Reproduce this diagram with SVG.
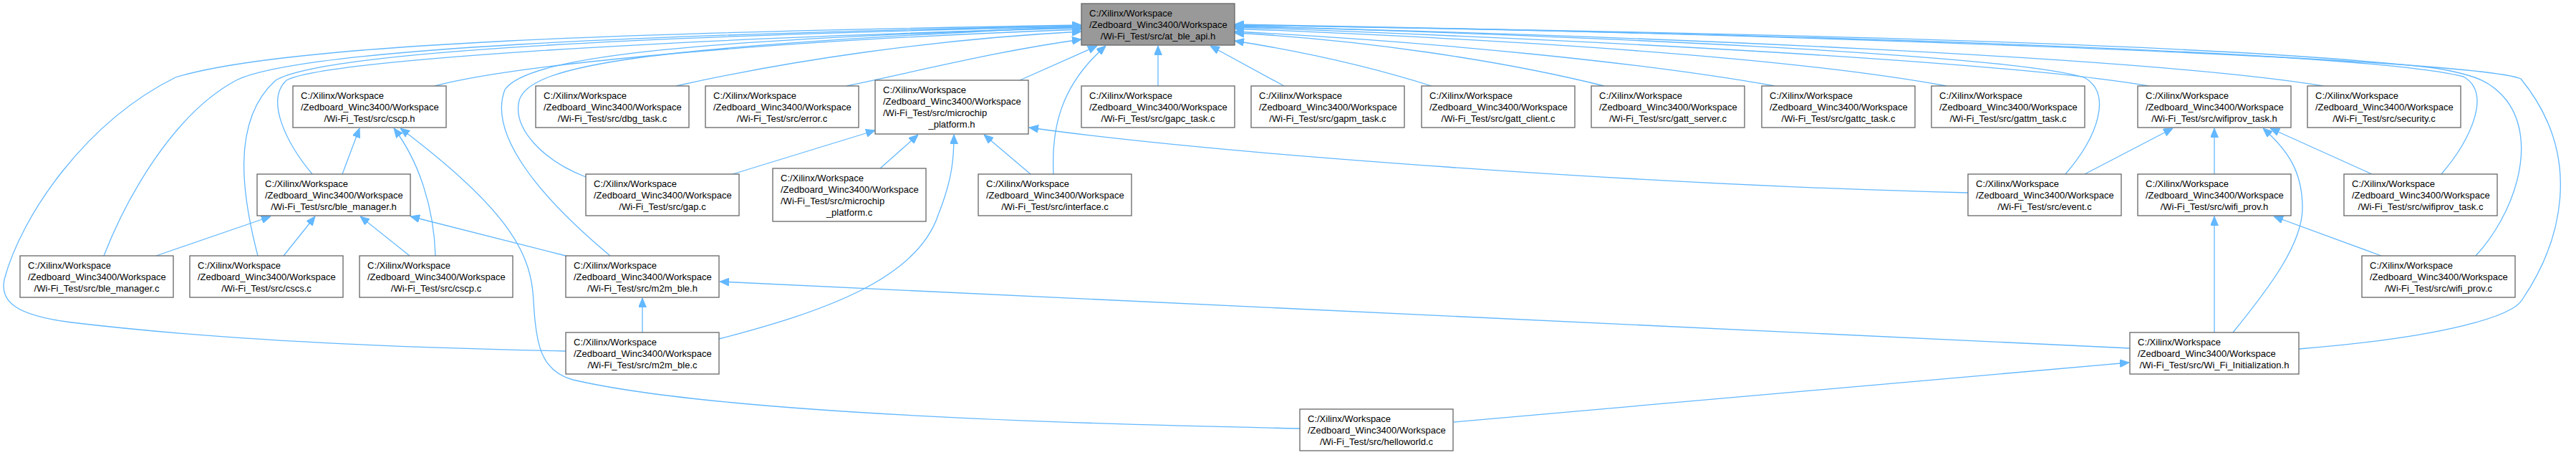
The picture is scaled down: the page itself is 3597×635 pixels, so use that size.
<svg xmlns="http://www.w3.org/2000/svg" width="3597" height="635" viewBox="0 0 3597 635">
<style>
.bg{fill:#ffffff}
.box{fill:#ffffff;stroke:#666666;stroke-width:1.3}
.rootbox{fill:#999999;stroke:#666666;stroke-width:1.3}
text{font-family:"Liberation Sans",Arial,sans-serif;font-size:13px;fill:#000000}
.c{text-anchor:middle}
.e{fill:none;stroke:#63b8ff;stroke-width:1.3;marker-end:url(#arr)}
</style>
<defs>
<marker id="arr" viewBox="0 0 13 11" refX="13" refY="5.5" markerWidth="13" markerHeight="11" markerUnits="userSpaceOnUse" orient="auto">
<path d="M0,0 L13,5.5 L0,11 z" fill="#63b8ff" stroke="#63b8ff" stroke-width="1"/>
</marker>
</defs>
<rect class="bg" x="0" y="0" width="3597" height="635"/>
<g id="edges">
<path class="e" d="M790,490 C650,487 350,480 100,450 C20,440 0,420 6,390 C30,300 120,170 245,108 C400,60 900,45 1510,35"/>
<path class="e" d="M145,357 C175,280 240,160 330,112 C420,68 900,48 1510,36"/>
<path class="e" d="M360,357 C340,280 320,170 385,112 C450,72 900,50 1510,37"/>
<path class="e" d="M436,243 C400,200 370,140 400,112 C450,85 900,55 1510,39"/>
<path class="e" d="M607,120 C700,95 1000,60 1510,41"/>
<path class="e" d="M852,357 C760,280 680,190 705,125 C740,75 1000,55 1510,38"/>
<path class="e" d="M818,247 C760,225 715,180 725,140 C740,90 900,65 1510,37"/>
<path class="e" d="M944,120 C1100,85 1300,55 1510,44"/>
<path class="e" d="M1182,120 C1300,95 1400,70 1510,55"/>
<path class="e" d="M1424,112 L1532,64"/>
<path class="e" d="M1471,243 C1468,180 1480,120 1544,64"/>
<path class="e" d="M1617,120 L1617,64"/>
<path class="e" d="M1793,120 L1690,64"/>
<path class="e" d="M1999,120 C1920,95 1820,72 1724,57"/>
<path class="e" d="M2240,120 C2100,85 1900,55 1724,46"/>
<path class="e" d="M2478,120 C2300,88 2000,58 1724,44"/>
<path class="e" d="M2718,120 C2500,80 2100,55 1724,40"/>
<path class="e" d="M3000,120 C2800,85 2200,55 1724,38"/>
<path class="e" d="M3244,120 C3000,80 2300,50 1724,37"/>
<path class="e" d="M2884,243 C2930,190 2950,130 2910,108 C2800,75 2200,50 1724,36"/>
<path class="e" d="M3409,243 C3450,195 3480,130 3440,107 C3300,70 2400,45 1724,35"/>
<path class="e" d="M3457,357 C3510,300 3545,200 3500,140 C3480,115 3460,105 3400,95 C3100,60 2400,45 1724,35"/>
<path class="e" d="M3210,487 C3420,470 3510,440 3522,418 C3575,340 3610,220 3520,110 C3450,80 2400,45 1724,34"/>
<path class="e" d="M478,243 L502,179"/>
<path class="e" d="M608,357 C606,290 585,225 550,179"/>
<path class="e" d="M1815,598 C1300,588 950,565 800,530 C755,518 748,480 745,420 C742,360 720,300 559,179"/>
<path class="e" d="M218,357 L378,302"/>
<path class="e" d="M396,357 L440,302"/>
<path class="e" d="M572,357 L503,302"/>
<path class="e" d="M790,357 L573,302"/>
<path class="e" d="M1023,243 L1222,182"/>
<path class="e" d="M1229,235 L1282,188"/>
<path class="e" d="M1439,243 L1374,188"/>
<path class="e" d="M1004,473 C1150,435 1280,390 1310,300 C1330,250 1332,220 1332,188"/>
<path class="e" d="M2748,269 C2300,258 1700,215 1437,178"/>
<path class="e" d="M897,464 L897,416"/>
<path class="e" d="M2974,486 L1005,393"/>
<path class="e" d="M2911,243 L3034,179"/>
<path class="e" d="M3092,243 L3092,179"/>
<path class="e" d="M3118,464 C3170,400 3215,340 3215,290 C3215,240 3195,210 3160,179"/>
<path class="e" d="M3312,243 L3170,179"/>
<path class="e" d="M3325,357 L3175,302"/>
<path class="e" d="M3092,464 L3092,302"/>
<path class="e" d="M2030,589 L2973,506"/>
</g>
<g id="node-at_ble_api_h">
<rect class="rootbox" x="1510" y="5" width="214" height="58"/>
<text x="1521" y="23">C:/Xilinx/Workspace</text>
<text x="1521" y="39">/Zedboard_Winc3400/Workspace</text>
<text class="c" x="1617" y="55">/Wi-Fi_Test/src/at_ble_api.h</text>
</g>
<g id="node-cscp_h">
<rect class="box" x="409" y="120" width="214" height="58"/>
<text x="420" y="138">C:/Xilinx/Workspace</text>
<text x="420" y="154">/Zedboard_Winc3400/Workspace</text>
<text class="c" x="516" y="170">/Wi-Fi_Test/src/cscp.h</text>
</g>
<g id="node-dbg_task_c">
<rect class="box" x="748" y="120" width="214" height="58"/>
<text x="759" y="138">C:/Xilinx/Workspace</text>
<text x="759" y="154">/Zedboard_Winc3400/Workspace</text>
<text class="c" x="855" y="170">/Wi-Fi_Test/src/dbg_task.c</text>
</g>
<g id="node-error_c">
<rect class="box" x="985" y="120" width="214" height="58"/>
<text x="996" y="138">C:/Xilinx/Workspace</text>
<text x="996" y="154">/Zedboard_Winc3400/Workspace</text>
<text class="c" x="1092" y="170">/Wi-Fi_Test/src/error.c</text>
</g>
<g id="node-microchip_platform_h">
<rect class="box" x="1222" y="112" width="214" height="75"/>
<text x="1233" y="130">C:/Xilinx/Workspace</text>
<text x="1233" y="146">/Zedboard_Winc3400/Workspace</text>
<text x="1233" y="162">/Wi-Fi_Test/src/microchip</text>
<text class="c" x="1329" y="178">_platform.h</text>
</g>
<g id="node-gapc_task_c">
<rect class="box" x="1510" y="120" width="214" height="58"/>
<text x="1521" y="138">C:/Xilinx/Workspace</text>
<text x="1521" y="154">/Zedboard_Winc3400/Workspace</text>
<text class="c" x="1617" y="170">/Wi-Fi_Test/src/gapc_task.c</text>
</g>
<g id="node-gapm_task_c">
<rect class="box" x="1747" y="120" width="214" height="58"/>
<text x="1758" y="138">C:/Xilinx/Workspace</text>
<text x="1758" y="154">/Zedboard_Winc3400/Workspace</text>
<text class="c" x="1854" y="170">/Wi-Fi_Test/src/gapm_task.c</text>
</g>
<g id="node-gatt_client_c">
<rect class="box" x="1985" y="120" width="214" height="58"/>
<text x="1996" y="138">C:/Xilinx/Workspace</text>
<text x="1996" y="154">/Zedboard_Winc3400/Workspace</text>
<text class="c" x="2092" y="170">/Wi-Fi_Test/src/gatt_client.c</text>
</g>
<g id="node-gatt_server_c">
<rect class="box" x="2222" y="120" width="214" height="58"/>
<text x="2233" y="138">C:/Xilinx/Workspace</text>
<text x="2233" y="154">/Zedboard_Winc3400/Workspace</text>
<text class="c" x="2329" y="170">/Wi-Fi_Test/src/gatt_server.c</text>
</g>
<g id="node-gattc_task_c">
<rect class="box" x="2460" y="120" width="214" height="58"/>
<text x="2471" y="138">C:/Xilinx/Workspace</text>
<text x="2471" y="154">/Zedboard_Winc3400/Workspace</text>
<text class="c" x="2567" y="170">/Wi-Fi_Test/src/gattc_task.c</text>
</g>
<g id="node-gattm_task_c">
<rect class="box" x="2697" y="120" width="214" height="58"/>
<text x="2708" y="138">C:/Xilinx/Workspace</text>
<text x="2708" y="154">/Zedboard_Winc3400/Workspace</text>
<text class="c" x="2804" y="170">/Wi-Fi_Test/src/gattm_task.c</text>
</g>
<g id="node-wifiprov_task_h">
<rect class="box" x="2985" y="120" width="214" height="58"/>
<text x="2996" y="138">C:/Xilinx/Workspace</text>
<text x="2996" y="154">/Zedboard_Winc3400/Workspace</text>
<text class="c" x="3092" y="170">/Wi-Fi_Test/src/wifiprov_task.h</text>
</g>
<g id="node-security_c">
<rect class="box" x="3222" y="120" width="214" height="58"/>
<text x="3233" y="138">C:/Xilinx/Workspace</text>
<text x="3233" y="154">/Zedboard_Winc3400/Workspace</text>
<text class="c" x="3329" y="170">/Wi-Fi_Test/src/security.c</text>
</g>
<g id="node-ble_manager_h">
<rect class="box" x="359" y="243" width="214" height="58"/>
<text x="370" y="261">C:/Xilinx/Workspace</text>
<text x="370" y="277">/Zedboard_Winc3400/Workspace</text>
<text class="c" x="466" y="293">/Wi-Fi_Test/src/ble_manager.h</text>
</g>
<g id="node-gap_c">
<rect class="box" x="818" y="243" width="214" height="58"/>
<text x="829" y="261">C:/Xilinx/Workspace</text>
<text x="829" y="277">/Zedboard_Winc3400/Workspace</text>
<text class="c" x="925" y="293">/Wi-Fi_Test/src/gap.c</text>
</g>
<g id="node-microchip_platform_c">
<rect class="box" x="1079" y="235" width="214" height="74"/>
<text x="1090" y="253">C:/Xilinx/Workspace</text>
<text x="1090" y="269">/Zedboard_Winc3400/Workspace</text>
<text x="1090" y="285">/Wi-Fi_Test/src/microchip</text>
<text class="c" x="1186" y="301">_platform.c</text>
</g>
<g id="node-interface_c">
<rect class="box" x="1366" y="243" width="214" height="58"/>
<text x="1377" y="261">C:/Xilinx/Workspace</text>
<text x="1377" y="277">/Zedboard_Winc3400/Workspace</text>
<text class="c" x="1473" y="293">/Wi-Fi_Test/src/interface.c</text>
</g>
<g id="node-event_c">
<rect class="box" x="2748" y="243" width="214" height="58"/>
<text x="2759" y="261">C:/Xilinx/Workspace</text>
<text x="2759" y="277">/Zedboard_Winc3400/Workspace</text>
<text class="c" x="2855" y="293">/Wi-Fi_Test/src/event.c</text>
</g>
<g id="node-wifi_prov_h">
<rect class="box" x="2985" y="243" width="214" height="58"/>
<text x="2996" y="261">C:/Xilinx/Workspace</text>
<text x="2996" y="277">/Zedboard_Winc3400/Workspace</text>
<text class="c" x="3092" y="293">/Wi-Fi_Test/src/wifi_prov.h</text>
</g>
<g id="node-wifiprov_task_c">
<rect class="box" x="3273" y="243" width="214" height="58"/>
<text x="3284" y="261">C:/Xilinx/Workspace</text>
<text x="3284" y="277">/Zedboard_Winc3400/Workspace</text>
<text class="c" x="3380" y="293">/Wi-Fi_Test/src/wifiprov_task.c</text>
</g>
<g id="node-ble_manager_c">
<rect class="box" x="28" y="357" width="214" height="58"/>
<text x="39" y="375">C:/Xilinx/Workspace</text>
<text x="39" y="391">/Zedboard_Winc3400/Workspace</text>
<text class="c" x="135" y="407">/Wi-Fi_Test/src/ble_manager.c</text>
</g>
<g id="node-cscs_c">
<rect class="box" x="265" y="357" width="214" height="58"/>
<text x="276" y="375">C:/Xilinx/Workspace</text>
<text x="276" y="391">/Zedboard_Winc3400/Workspace</text>
<text class="c" x="372" y="407">/Wi-Fi_Test/src/cscs.c</text>
</g>
<g id="node-cscp_c">
<rect class="box" x="502" y="357" width="214" height="58"/>
<text x="513" y="375">C:/Xilinx/Workspace</text>
<text x="513" y="391">/Zedboard_Winc3400/Workspace</text>
<text class="c" x="609" y="407">/Wi-Fi_Test/src/cscp.c</text>
</g>
<g id="node-m2m_ble_h">
<rect class="box" x="790" y="357" width="214" height="58"/>
<text x="801" y="375">C:/Xilinx/Workspace</text>
<text x="801" y="391">/Zedboard_Winc3400/Workspace</text>
<text class="c" x="897" y="407">/Wi-Fi_Test/src/m2m_ble.h</text>
</g>
<g id="node-wifi_prov_c">
<rect class="box" x="3298" y="357" width="214" height="58"/>
<text x="3309" y="375">C:/Xilinx/Workspace</text>
<text x="3309" y="391">/Zedboard_Winc3400/Workspace</text>
<text class="c" x="3405" y="407">/Wi-Fi_Test/src/wifi_prov.c</text>
</g>
<g id="node-m2m_ble_c">
<rect class="box" x="790" y="464" width="214" height="58"/>
<text x="801" y="482">C:/Xilinx/Workspace</text>
<text x="801" y="498">/Zedboard_Winc3400/Workspace</text>
<text class="c" x="897" y="514">/Wi-Fi_Test/src/m2m_ble.c</text>
</g>
<g id="node-wi_fi_initialization_h">
<rect class="box" x="2974" y="464" width="236" height="58"/>
<text x="2985" y="482">C:/Xilinx/Workspace</text>
<text x="2985" y="498">/Zedboard_Winc3400/Workspace</text>
<text class="c" x="3092" y="514">/Wi-Fi_Test/src/Wi_Fi_Initialization.h</text>
</g>
<g id="node-helloworld_c">
<rect class="box" x="1815" y="571" width="214" height="58"/>
<text x="1826" y="589">C:/Xilinx/Workspace</text>
<text x="1826" y="605">/Zedboard_Winc3400/Workspace</text>
<text class="c" x="1922" y="621">/Wi-Fi_Test/src/helloworld.c</text>
</g>
</svg>
